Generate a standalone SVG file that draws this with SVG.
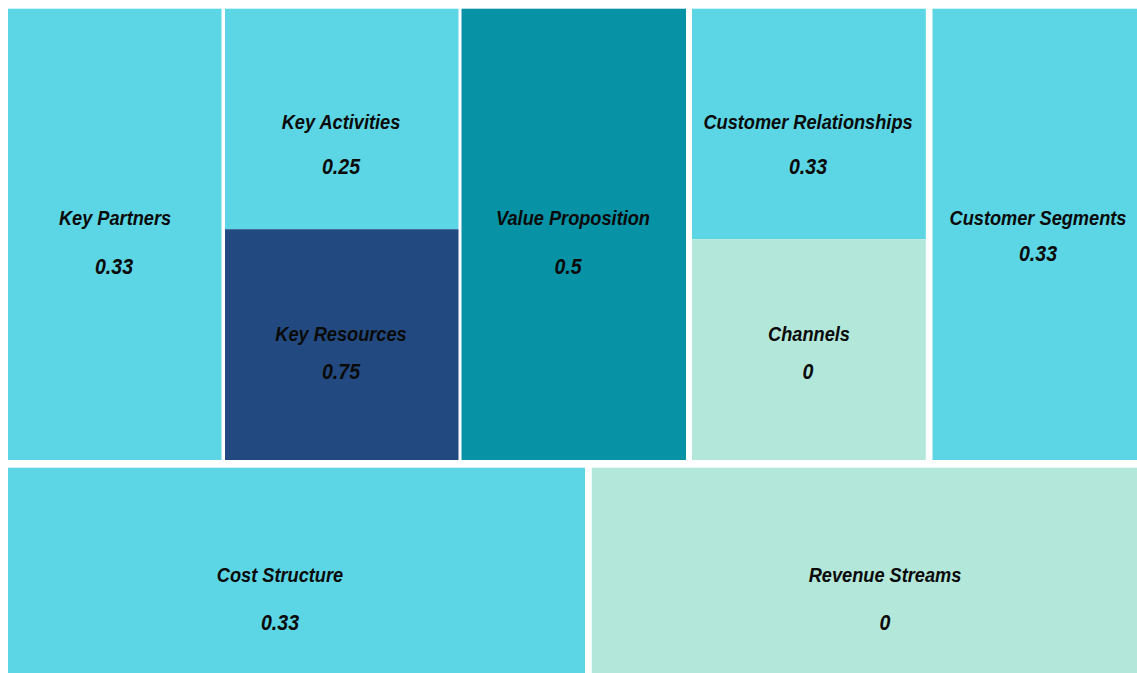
<svg xmlns="http://www.w3.org/2000/svg" width="1137" height="673" viewBox="0 0 1137 673">
  <style>
    .bg { fill: #ffffff; }
    .c-light { fill: #5cd6e4; }
    .c-navy { fill: #224a80; }
    .c-teal { fill: #0792a6; }
    .c-mint { fill: #b2e7d9; }
    .lbl { font-family: "Liberation Sans", Arial, sans-serif; font-weight: bold; font-style: italic; font-size: 20px; fill: #0a0a0a; text-anchor: middle; }
    .num { font-size: 21.5px; }
  </style>
  <rect class="bg" x="0" y="0" width="1137" height="673"/>

  <!-- top row: the nine-block canvas -->
  <g id="key-partners">
    <rect class="c-light" x="8" y="8.7" width="213.5" height="451.3"/>
    <text class="lbl" transform="matrix(0.91 0 0 1 115 224.5)">Key Partners</text>
    <text class="lbl num" transform="matrix(0.91 0 0 1 114 274)">0.33</text>
  </g>
  <g id="key-activities">
    <rect class="c-light" x="225" y="8.7" width="233.5" height="220.5"/>
    <text class="lbl" transform="matrix(0.91 0 0 1 341 129)">Key Activities</text>
    <text class="lbl num" transform="matrix(0.91 0 0 1 341 173.5)">0.25</text>
  </g>
  <g id="key-resources">
    <rect class="c-navy" x="225" y="229.2" width="233.5" height="230.8"/>
    <text class="lbl" transform="matrix(0.91 0 0 1 341 340.5)">Key Resources</text>
    <text class="lbl num" transform="matrix(0.91 0 0 1 341 378.5)">0.75</text>
  </g>
  <g id="value-proposition">
    <rect class="c-teal" x="461.5" y="8.7" width="224.5" height="451.3"/>
    <text class="lbl" transform="matrix(0.91 0 0 1 573 225)">Value Proposition</text>
    <text class="lbl num" transform="matrix(0.91 0 0 1 568 274)">0.5</text>
  </g>
  <g id="customer-relationships">
    <rect class="c-light" x="692" y="8.7" width="233.8" height="230.5"/>
    <text class="lbl" transform="matrix(0.91 0 0 1 808 129)">Customer Relationships</text>
    <text class="lbl num" transform="matrix(0.91 0 0 1 808 173.5)">0.33</text>
  </g>
  <g id="channels">
    <rect class="c-mint" x="692" y="239.2" width="233.8" height="220.8"/>
    <text class="lbl" transform="matrix(0.91 0 0 1 809 340.5)">Channels</text>
    <text class="lbl num" transform="matrix(0.91 0 0 1 808 378.5)">0</text>
  </g>
  <g id="customer-segments">
    <rect class="c-light" x="932.5" y="8.7" width="204.5" height="451.3"/>
    <text class="lbl" transform="matrix(0.91 0 0 1 1038 225)">Customer Segments</text>
    <text class="lbl num" transform="matrix(0.91 0 0 1 1038 260.5)">0.33</text>
  </g>

  <!-- bottom row -->
  <g id="cost-structure">
    <rect class="c-light" x="8" y="467.7" width="577" height="205.3"/>
    <text class="lbl" transform="matrix(0.91 0 0 1 280 582)">Cost Structure</text>
    <text class="lbl num" transform="matrix(0.91 0 0 1 280 630)">0.33</text>
  </g>
  <g id="revenue-streams">
    <rect class="c-mint" x="591.7" y="467.7" width="545.3" height="205.3"/>
    <text class="lbl" transform="matrix(0.91 0 0 1 885 582)">Revenue Streams</text>
    <text class="lbl num" transform="matrix(0.91 0 0 1 885 630)">0</text>
  </g>

  <g id="connectors"/>
</svg>
